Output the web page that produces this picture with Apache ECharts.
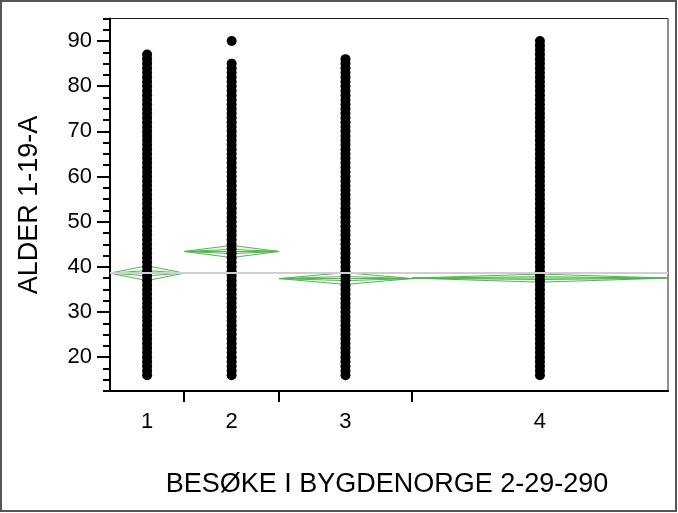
<!DOCTYPE html>
<html>
<head>
<meta charset="utf-8">
<script src="https://cdn.jsdelivr.net/npm/echarts@6/dist/echarts.min.js"></script>
<style>
html,body{margin:0;padding:0;background:#fff;}
#chart{width:678px;height:513px;}
</style>
</head>
<body>
<div id="chart"></div>
<script>
// ---- data ----
const groupLabels = ['1', '2', '3', '4'];
const groupN = [133, 170, 238, 459];          // relative group sizes (x widths)
const groupMeans = [38.6, 43.4, 37.4, 37.5];
const groupCIHalf = [1.65, 1.35, 1.3, 0.9];
const grandMean = 38.6;
const yMajorTicks = [20, 30, 40, 50, 60, 70, 80, 90];

const ages1 = [16,17,18,19,20,21,22,23,24,25,26,27,28,29,30,31,32,33,34,35,36,37,38,39,40,41,42,43,44,45,46,47,48,49,50,51,52,53,54,55,56,57,58,59,60,61,62,63,64,65,66,67,68,69,70,71,72,73,74,75,76,77,78,79,80,81,82,83,84,85,86,87];
const ages2 = [16,17,18,19,20,21,22,23,24,25,26,27,28,29,30,31,32,33,34,35,36,37,38,39,40,41,42,43,44,45,46,47,48,49,50,51,52,53,54,55,56,57,58,59,60,61,62,63,64,65,66,67,68,69,70,71,72,73,74,75,76,77,78,79,80,81,82,83,84,85,90];
const ages3 = [16,17,18,19,20,21,22,23,24,25,26,27,28,29,30,31,32,33,34,35,36,37,38,39,40,41,42,43,44,45,46,47,48,49,50,51,52,53,54,55,56,57,58,59,60,61,62,63,64,65,66,67,68,69,70,71,72,73,74,75,76,77,78,79,80,81,82,83,84,85,86];
const ages4 = [16,17,18,19,20,21,22,23,24,25,26,27,28,29,30,31,32,33,34,35,36,37,38,39,40,41,42,43,44,45,46,47,48,49,50,51,52,53,54,55,56,57,58,59,60,61,62,63,64,65,66,67,68,69,70,71,72,73,74,75,76,77,78,79,80,81,82,83,84,85,86,87,88,89,90];
const groupAges = [ages1, ages2, ages3, ages4];

// ---- derived ----
const bounds = [0];
groupN.forEach(n => bounds.push(bounds[bounds.length - 1] + n));
const total = bounds[bounds.length - 1];
const centers = groupN.map((n, i) => (bounds[i] + bounds[i + 1]) / 2);

const scatterData = [];
groupAges.forEach((arr, i) => arr.forEach(a => scatterData.push([centers[i], a])));

const diamondData = groupMeans.map((m, i) => [bounds[i], bounds[i + 1], m, groupCIHalf[i]]);

const green = '#4fb64f';

const chart = echarts.init(document.getElementById('chart'), null, {renderer: 'canvas'});
chart.setOption({
  animation: false,
  backgroundColor: '#fff',
  grid: {left: 110, right: 10, top: 18.5, bottom: 122, show: true, borderColor: '#222', borderWidth: 1},
  xAxis: {
    type: 'value', min: 0, max: total,
    axisLine: {show: true, lineStyle: {color: '#000', width: 2}},
    axisTick: {show: true, customValues: bounds.slice(1, -1), length: 11, lineStyle: {color: '#000', width: 2}},
    axisLabel: {
      show: true, customValues: centers, margin: 20,
      fontFamily: 'Liberation Sans, Arial, sans-serif', fontSize: 22, color: '#000',
      formatter: function (v) {
        let best = 0;
        centers.forEach((c, i) => { if (Math.abs(c - v) < Math.abs(centers[best] - v)) best = i; });
        return groupLabels[best];
      }
    },
    splitLine: {show: false}
  },
  yAxis: [
    {
      type: 'value', min: 12.5, max: 95,
      axisLine: {show: true, lineStyle: {color: '#000', width: 2}},
      axisTick: {show: true, customValues: yMajorTicks, length: 13, lineStyle: {color: '#000', width: 2}},
      axisLabel: {show: true, customValues: yMajorTicks, margin: 18, fontFamily: 'Liberation Sans, Arial, sans-serif', fontSize: 22, color: '#000'},
      splitLine: {show: false}
    },
    {
      type: 'value', min: 12.5, max: 95, interval: 2.5, position: 'left', offset: 0,
      axisLine: {show: false},
      axisTick: {show: true, length: 7, lineStyle: {color: '#000', width: 2}},
      axisLabel: {show: false},
      splitLine: {show: false}
    }
  ],
  graphic: [
    {type: 'rect', shape: {x: 1, y: 1, width: 675, height: 510}, style: {fill: 'none', stroke: '#555', lineWidth: 2}, silent: true, z: 100},
    {type: 'text', x: 30, y: 205, rotation: Math.PI / 2,
      style: {text: 'ALDER 1-19-A', fontFamily: 'Liberation Sans, Arial, sans-serif', fontSize: 27, fill: '#000', textAlign: 'center', textVerticalAlign: 'middle'}},
    {type: 'text', x: 387, y: 485,
      style: {text: 'BESØKE I BYGDENORGE 2-29-290', fontFamily: 'Liberation Sans, Arial, sans-serif', fontSize: 27, fill: '#000', textAlign: 'center', textVerticalAlign: 'middle'}}
  ],
  series: [
    {
      type: 'custom', z: 2,
      data: diamondData,
      renderItem: function (params, api) {
        const x0 = api.value(0), x1 = api.value(1), m = api.value(2), h = api.value(3);
        const xc = (x0 + x1) / 2;
        const L = api.coord([x0, m]), R = api.coord([x1, m]);
        const T = api.coord([xc, m + h]), B = api.coord([xc, m - h]);
        const iT = api.coord([xc, m + h * 0.35]), iB = api.coord([xc, m - h * 0.35]);
        const st = {fill: 'none', stroke: green, lineWidth: 1};
        return {
          type: 'group',
          children: [
            {type: 'polygon', shape: {points: [L, T, R, B]}, style: st},
            {type: 'polygon', shape: {points: [L, iT, R, iB]}, style: st},
            {type: 'line', shape: {x1: L[0], y1: L[1], x2: R[0], y2: R[1]}, style: st}
          ]
        };
      },
      markLine: {
        silent: true, symbol: 'none', label: {show: false},
        lineStyle: {color: '#cfcfcf', width: 2, type: 'solid'},
        data: [{yAxis: grandMean}]
      }
    },
    {
      type: 'scatter', z: 3,
      data: scatterData,
      symbol: 'circle', symbolSize: 10,
      itemStyle: {color: '#000', opacity: 1},
      silent: true
    }
  ]
});
</script>
</body>
</html>
